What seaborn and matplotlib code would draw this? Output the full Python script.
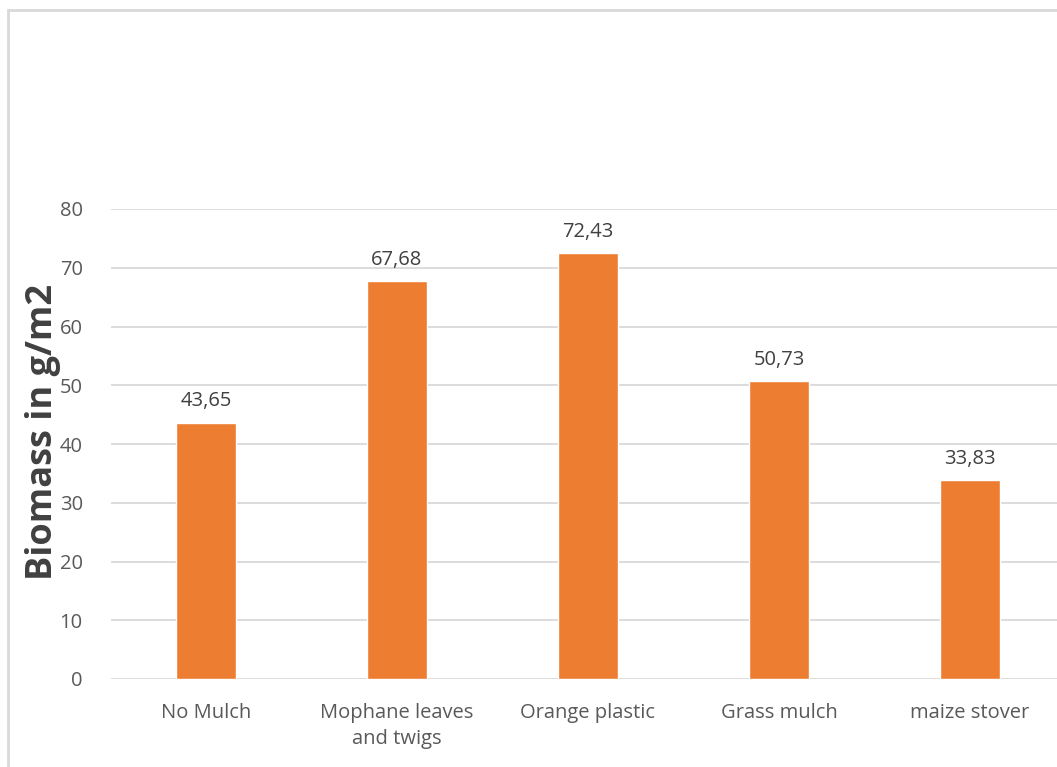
import matplotlib
matplotlib.use("Agg")
import matplotlib.pyplot as plt
import seaborn as sns
import pandas as pd
from matplotlib.patches import Rectangle

categories = ["No Mulch", "Mophane leaves\nand twigs", "Orange plastic", "Grass mulch", "maize stover"]
biomass = [43.65, 67.68, 72.43, 50.73, 33.83]
y_ticks = [0, 10, 20, 30, 40, 50, 60, 70, 80]

df = pd.DataFrame({"treatment": categories, "biomass": biomass})

sns.set_theme(style="white")
plt.rcParams["font.family"] = ["Open Sans", "DejaVu Sans"]

fig = plt.figure(figsize=(10.57, 7.67), dpi=100)
ax = fig.add_axes([110.5 / 1057, 1 - 679 / 767, 955 / 1057, 470 / 767])

sns.barplot(data=df, x="treatment", y="biomass", color="#ED7D31",
            saturation=1, width=0.314, ax=ax, zorder=3)

ax.set_ylim(0, 80)
ax.set_yticks(y_ticks)
ax.set_yticklabels([str(t) for t in y_ticks])
ax.grid(axis="y", color="#D9D9D9", linewidth=1.3, zorder=0)
ax.grid(axis="x", visible=False)
for s in ax.spines.values():
    s.set_visible(False)
ax.tick_params(axis="both", length=0, colors="#595959", labelsize=14.5)
ax.tick_params(axis="y", pad=20)
ax.tick_params(axis="x", pad=17)
for lbl in ax.get_xticklabels():
    lbl.set_linespacing(1.45)
ax.set_xlabel("")
ax.set_ylabel("Biomass in g/m2", fontsize=26, fontweight="bold", color="#404040", labelpad=-1)
ax.yaxis.label.set_y(0.526)

for container in ax.containers:
    ax.bar_label(container, labels=[f"{v:.2f}".replace(".", ",") for v in biomass],
                 padding=8, fontsize=14.5, color="#404040")

# outer chart border
fig.patches.append(Rectangle((8 / 1057, -0.05), 1.1, 1 - 10 / 767 + 0.05,
                             transform=fig.transFigure, fill=False,
                             edgecolor="#D9D9D9", linewidth=2, zorder=0))

fig.savefig("out.png", dpi=100)
